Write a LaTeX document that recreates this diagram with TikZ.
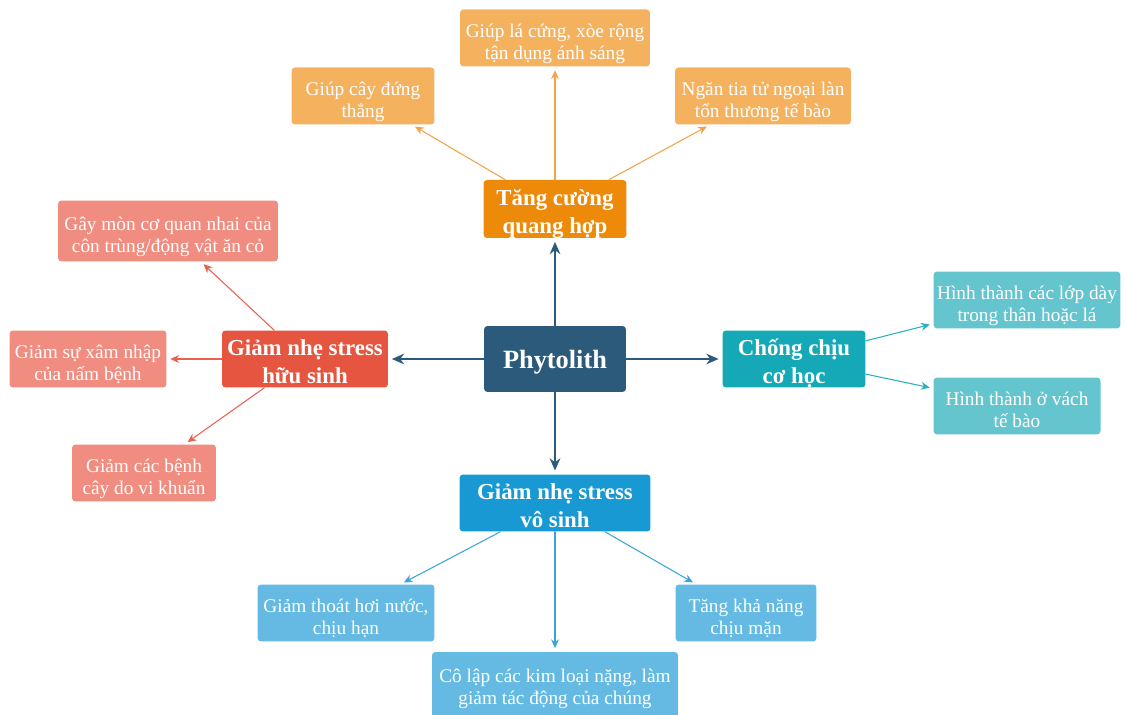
\documentclass[tikz,border=0pt]{standalone}
\usepackage{fontspec}
\setmainfont{Liberation Serif}
\usetikzlibrary{arrows.meta}

\begin{document}
\begin{tikzpicture}
[x=0.02cm,y=-0.02cm,line cap=round,
% Styles
box/.style={rounded corners=2pt,text=white,align=center,inner xsep=2pt,inner ysep=0pt,minimum height=1.14cm,text depth=0pt},
root/.style={box,fill=rootcolor,font=\bfseries\fontsize{15}{18}\selectfont,minimum height=1.32cm,text height=11pt},
branch/.style={box,font=\bfseries\fontsize{13}{15.5}\selectfont,text height=27.5pt},
leaf/.style={box,font=\fontsize{11}{13}\selectfont,text height=25pt},
main arrow/.style={->,>={Stealth[length=7pt,width=6pt]},line width=1.3pt,draw=rootcolor,shorten >=2pt},
leaf arrow/.style={->,>={Stealth[length=5pt,width=4.5pt]},line width=0.6pt,shorten >=2pt}]
% Colors
\definecolor{rootcolor}{HTML}{2C5A7A}
\definecolor{orangedark}{HTML}{EE8A0A}
\definecolor{orangelight}{HTML}{F5B25E}
\definecolor{orangeline}{HTML}{F2A347}
\definecolor{reddark}{HTML}{E5553F}
\definecolor{redlight}{HTML}{F08C80}
\definecolor{redline}{HTML}{E9604E}
\definecolor{tealdark}{HTML}{15A9B8}
\definecolor{teallight}{HTML}{64C5CF}
\definecolor{tealline}{HTML}{2AB0BE}
\definecolor{bluedark}{HTML}{1999D3}
\definecolor{bluelight}{HTML}{64BAE2}
\definecolor{blueline}{HTML}{3AA5DA}
% Frame
\useasboundingbox (0,0) rectangle (1125,715);
\clip (0,0) rectangle (1125,715);
% Centre
\node[root,minimum width=2.84cm] (phytolith) at (555,359) {Phytolith};
% Branches
\node[branch,fill=orangedark,minimum width=2.86cm,minimum height=1.16cm] (quanghop) at (555,209) {Tăng cường\\quang hợp};
\node[branch,fill=reddark,minimum width=3.32cm] (huusinh) at (305,359) {Giảm nhẹ stress\\hữu sinh};
\node[branch,fill=tealdark,minimum width=2.86cm] (cohoc) at (794,359) {Chống chịu\\cơ học};
\node[branch,fill=bluedark,minimum width=3.82cm] (vosinh) at (555,503) {Giảm nhẹ stress\\vô sinh};
% Leaves: quang hop
\node[leaf,fill=orangelight,minimum width=3.8cm] (xoerong) at (555,38) {Giúp lá cứng, xòe rộng\\tận dụng ánh sáng};
\node[leaf,fill=orangelight,minimum width=2.86cm] (dungthang) at (363,96) {Giúp cây đứng\\thẳng};
\node[leaf,fill=orangelight,minimum width=3.52cm] (tiatu) at (763,96) {Ngăn tia tử ngoại làn\\tổn thương tế bào};
% Leaves: huu sinh
\node[leaf,fill=redlight,minimum width=4.4cm,minimum height=1.22cm] (moncoquan) at (168,231) {Gây mòn cơ quan nhai của\\côn trùng/động vật ăn cỏ};
\node[leaf,fill=redlight,minimum width=3.14cm] (namhenh) at (88,359) {Giảm sự xâm nhập\\của nấm bệnh};
\node[leaf,fill=redlight,minimum width=2.88cm] (vikhuan) at (144,473) {Giảm các bệnh\\cây do vi khuẩn};
% Leaves: co hoc
\node[leaf,fill=teallight,minimum width=3.72cm] (lopday) at (1027,300) {Hình thành các lớp dày\\trong thân hoặc lá};
\node[leaf,fill=teallight,minimum width=3.34cm] (vach) at (1017,406) {Hình thành ở vách\\tế bào};
% Leaves: vo sinh
\node[leaf,fill=bluelight,minimum width=3.54cm] (hanhan) at (346,613) {Giảm thoát hơi nước,\\chịu hạn};
\node[leaf,fill=bluelight,minimum width=4.92cm,minimum height=1.4cm,text depth=4.6pt] (kimloai) at (555,687) {Cô lập các kim loại nặng, làm\\giảm tác động của chúng};
\node[leaf,fill=bluelight,minimum width=2.82cm] (chiuman) at (746,613) {Tăng khả năng\\chịu mặn};
% Main arrows
\foreach \target in {quanghop,huusinh,cohoc,vosinh}
  \draw[main arrow] (phytolith) -- (\target);
% Leaf arrows
\foreach \target in {xoerong,dungthang,tiatu}
  \draw[leaf arrow,draw=orangeline] (quanghop) -- (\target);
\foreach \target in {moncoquan,namhenh,vikhuan}
  \draw[leaf arrow,draw=redline] (huusinh) -- (\target);
\foreach \target in {lopday,vach}
  \draw[leaf arrow,draw=tealline] (cohoc) -- (\target);
\foreach \target in {hanhan,kimloai,chiuman}
  \draw[leaf arrow,draw=blueline] (vosinh) -- (\target);
\end{tikzpicture}
\end{document}
